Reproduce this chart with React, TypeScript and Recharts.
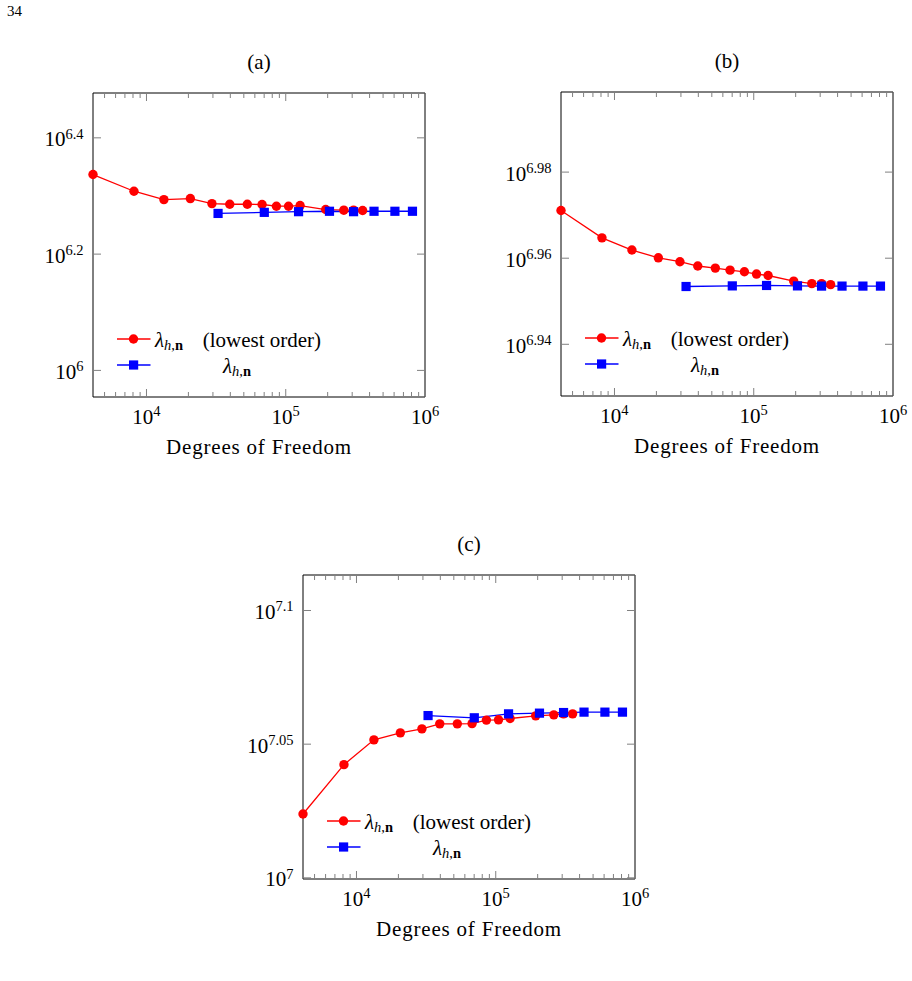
import { Legend, Line, LineChart, XAxis, YAxis } from "recharts";

const FONT = '"Liberation Serif", "Times New Roman", serif';
const RED = "#ff0000";
const BLUE = "#0000ff";
const TICK = "#808080";

// degrees of freedom of the two mesh sequences, shared by all three panels
const DOF_LOW = [4130, 8130, 13340, 20650, 29510, 39630, 52970, 67610, 85700, 104700, 126800, 193600, 261200, 306900, 356500];
const DOF_HIGH = [32660, 70150, 123600, 206100, 306900, 430500, 608100, 812800];

// panel (a)
const LAMBDA_A_LOW = [2172000, 2033000, 1967000, 1975000, 1936000, 1931000, 1931000, 1929000, 1916000, 1916000, 1921000, 1891000, 1886000, 1886000, 1884000];
const LAMBDA_A_HIGH = [1862000, 1870000, 1875000, 1878000, 1875000, 1878000, 1878000, 1878000];
const Y_DOMAIN_A: [number, number] = [900000, 3000000];
const Y_EXP_A = ["6", "6.2", "6.4"];

// panel (b)
const LAMBDA_B_LOW = [9356000, 9220000, 9160000, 9122000, 9103000, 9082000, 9072000, 9062000, 9054000, 9043000, 9036000, 9009000, 8997000, 8997000, 8992000];
const LAMBDA_B_HIGH = [8983000, 8986000, 8988000, 8986000, 8985000, 8985000, 8985000, 8985000];
const Y_DOMAIN_B: [number, number] = [8472000, 9968000];
const Y_EXP_B = ["6.94", "6.96", "6.98"];

// panel (c)
const LAMBDA_C_LOW = [10565000, 11024000, 11262000, 11330000, 11369000, 11418000, 11418000, 11421000, 11455000, 11458000, 11471000, 11497000, 11507000, 11517000, 11517000];
const LAMBDA_C_HIGH = [11500000, 11478000, 11517000, 11524000, 11530000, 11534000, 11534000, 11534000];
const Y_DOMAIN_C: [number, number] = [9990000, 12980000];
const Y_EXP_C = ["7", "7.05", "7.1"];

const X_MIN = DOF_LOW[0];
const X_MAX = 1e6;
const X_DECADES = [3, 4, 5];
const X_TICKS = [
  ...X_DECADES.flatMap((d) => [1, 2, 3, 4, 5, 6, 7, 8, 9].map((m) => m * 10 ** d)),
  X_MAX,
].filter((v) => v >= X_MIN && v <= X_MAX);

const PLOT_W = 332;
const PLOT_H = 304;
const AXIS_W = 93;
const AXIS_H = 65;
// the mirrored top/right axes need a non-zero size or recharts skips them
const MIRROR = 1;
const PAD_TOP = 49;
const PAD_RIGHT = 19;

const isDecade = (v: number) => {
  const e = Math.log10(v);
  return Math.abs(e - Math.round(e)) < 1e-9;
};

function Power({ x, y, exp, anchor }: { x: number; y: number; exp: string; anchor: "middle" | "end" }) {
  return (
    <text x={x} y={y} textAnchor={anchor} fontFamily={FONT} fontSize={21} fill="#000">
      10
      <tspan fontSize={14.5} dy={-7.5}>{exp}</tspan>
    </text>
  );
}

function BottomTick({ x, y, payload }: any) {
  const major = isDecade(payload.value);
  return (
    <g>
      <line x1={x} x2={x} y1={y} y2={y - (major ? 8 : 5)} stroke={TICK} />
      {major && <Power x={x} y={y + 26.5} exp={String(Math.round(Math.log10(payload.value)))} anchor="middle" />}
    </g>
  );
}

function TopTick({ x, y, payload }: any) {
  const major = isDecade(payload.value);
  return <line x1={x} x2={x} y1={y} y2={y + (major ? 8 : 5)} stroke={TICK} />;
}

function LeftTick({ x, y, payload, ticks, labels }: any) {
  const label = labels[ticks.indexOf(payload.value)];
  return (
    <g>
      <line x1={x} x2={x + 8} y1={y} y2={y} stroke={TICK} />
      <Power x={x - 9.5} y={y + 8.5} exp={label} anchor="end" />
    </g>
  );
}

function RightTick({ x, y }: any) {
  return <line x1={x} x2={x - 8} y1={y} y2={y} stroke={TICK} />;
}

function Caption({ viewBox, text, dy, spacing = 0 }: any) {
  if (!viewBox) return null;
  return (
    <text
      x={viewBox.x + viewBox.width / 2}
      y={viewBox.y + dy}
      textAnchor="middle"
      fontFamily={FONT}
      fontSize={21}
      letterSpacing={spacing}
      fill="#000"
    >
      {text}
    </text>
  );
}

function Lambda({ x, y, anchor }: { x: number; y: number; anchor: "start" | "middle" }) {
  return (
    <text x={x} y={y} textAnchor={anchor} fontFamily={FONT} fontSize={21} fill="#000">
      <tspan fontStyle="italic">λ</tspan>
      <tspan fontSize={14.5} dy={3}>
        <tspan fontStyle="italic">h</tspan>,<tspan fontWeight="bold">n</tspan>
      </tspan>
    </text>
  );
}

function LegendBox() {
  return (
    <svg width={230} height={56} style={{ display: "block", overflow: "visible" }}>
      <line x1={4} x2={37.5} y1={16} y2={16} stroke={RED} strokeWidth={1.3} />
      <circle cx={20.5} cy={16} r={4.7} fill={RED} />
      <Lambda x={42} y={24.4} anchor="start" />
      <text x={89.7} y={24.4} fontFamily={FONT} fontSize={21} fill="#000">
        (lowest order)
      </text>
      <line x1={4} x2={37.5} y1={42} y2={42} stroke={BLUE} strokeWidth={1.3} />
      <rect x={16} y={37.4} width={9.2} height={9.2} fill={BLUE} />
      <Lambda x={124} y={50.4} anchor="middle" />
    </svg>
  );
}

const SquareDot = (props: any) => (
  <rect key={`sq-${props.index}`} x={props.cx - 4.6} y={props.cy - 4.6} width={9.2} height={9.2} fill={BLUE} />
);

interface PanelProps {
  tag: string;
  left: number;
  top: number;
  low: number[];
  high: number[];
  yDomain: [number, number];
  yExps: string[];
}

function Panel({ tag, left, top, low, high, yDomain, yExps }: PanelProps) {
  const lowRows = DOF_LOW.map((dof, i) => ({ dof, lambda: low[i] }));
  const highRows = DOF_HIGH.map((dof, i) => ({ dof, lambda: high[i] }));
  const yTicks = yExps.map((e) => 10 ** Number(e));
  const padTop = PAD_TOP + MIRROR;

  return (
    <div style={{ position: "absolute", left: left - AXIS_W, top: top - padTop }}>
      <LineChart
        width={AXIS_W + PLOT_W + MIRROR + PAD_RIGHT}
        height={padTop + PLOT_H + AXIS_H}
        margin={{ top: PAD_TOP, right: PAD_RIGHT, bottom: 0, left: 0 }}
      >
        <XAxis
          xAxisId="b"
          type="number"
          dataKey="dof"
          scale="log"
          domain={[X_MIN, X_MAX]}
          ticks={X_TICKS}
          interval={0}
          height={AXIS_H}
          tickSize={0}
          tickMargin={0}
          tickLine={false}
          axisLine={{ stroke: "#000", strokeWidth: 1 }}
          tick={(p: any) => <BottomTick {...p} />}
          label={<Caption text="Degrees of Freedom" dy={56.5} spacing={0.8} />}
        />
        <XAxis
          xAxisId="t"
          orientation="top"
          type="number"
          dataKey="dof"
          scale="log"
          domain={[X_MIN, X_MAX]}
          allowDataOverflow
          ticks={X_TICKS}
          interval={0}
          height={MIRROR}
          tickSize={0}
          tickMargin={0}
          tickLine={false}
          axisLine={{ stroke: "#000", strokeWidth: 1 }}
          tick={(p: any) => <TopTick {...p} />}
          label={<Caption text={tag} dy={-23} />}
        />
        <YAxis
          yAxisId="l"
          type="number"
          scale="log"
          domain={yDomain}
          ticks={yTicks}
          interval={0}
          width={AXIS_W}
          tickSize={0}
          tickMargin={0}
          tickLine={false}
          axisLine={{ stroke: "#000", strokeWidth: 1 }}
          tick={(p: any) => <LeftTick {...p} ticks={yTicks} labels={yExps} />}
        />
        <YAxis
          yAxisId="r"
          orientation="right"
          type="number"
          scale="log"
          domain={yDomain}
          allowDataOverflow
          ticks={yTicks}
          interval={0}
          width={MIRROR}
          tickSize={0}
          tickMargin={0}
          tickLine={false}
          axisLine={{ stroke: "#000", strokeWidth: 1 }}
          tick={(p: any) => <RightTick {...p} />}
        />
        <Line
          xAxisId="b"
          yAxisId="l"
          data={lowRows}
          dataKey="lambda"
          stroke={RED}
          strokeWidth={1.3}
          dot={{ r: 4.7, fill: RED, stroke: RED, strokeWidth: 0 }}
          activeDot={false}
          isAnimationActive={false}
        />
        <Line
          xAxisId="b"
          yAxisId="l"
          data={highRows}
          dataKey="lambda"
          stroke={BLUE}
          strokeWidth={1.3}
          dot={SquareDot}
          activeDot={false}
          isAnimationActive={false}
        />
        <Legend
          layout="vertical"
          align="center"
          verticalAlign="middle"
          wrapperStyle={{ left: AXIS_W + 20, top: padTop + PLOT_H - 74, width: 230, height: 56 }}
          content={() => <LegendBox />}
        />
      </LineChart>
    </div>
  );
}

export default function App() {
  return (
    <div
      style={{
        position: "absolute",
        left: 0,
        top: 0,
        width: 912,
        height: 981,
        background: "#fff",
        fontFamily: FONT,
      }}
    >
      <div style={{ position: "absolute", left: 7, top: 4, fontSize: 15, lineHeight: "15px" }}>34</div>
      <Panel tag="(a)" left={93} top={93} low={LAMBDA_A_LOW} high={LAMBDA_A_HIGH} yDomain={Y_DOMAIN_A} yExps={Y_EXP_A} />
      <Panel tag="(b)" left={561} top={92} low={LAMBDA_B_LOW} high={LAMBDA_B_HIGH} yDomain={Y_DOMAIN_B} yExps={Y_EXP_B} />
      <Panel tag="(c)" left={303} top={575} low={LAMBDA_C_LOW} high={LAMBDA_C_HIGH} yDomain={Y_DOMAIN_C} yExps={Y_EXP_C} />
    </div>
  );
}
